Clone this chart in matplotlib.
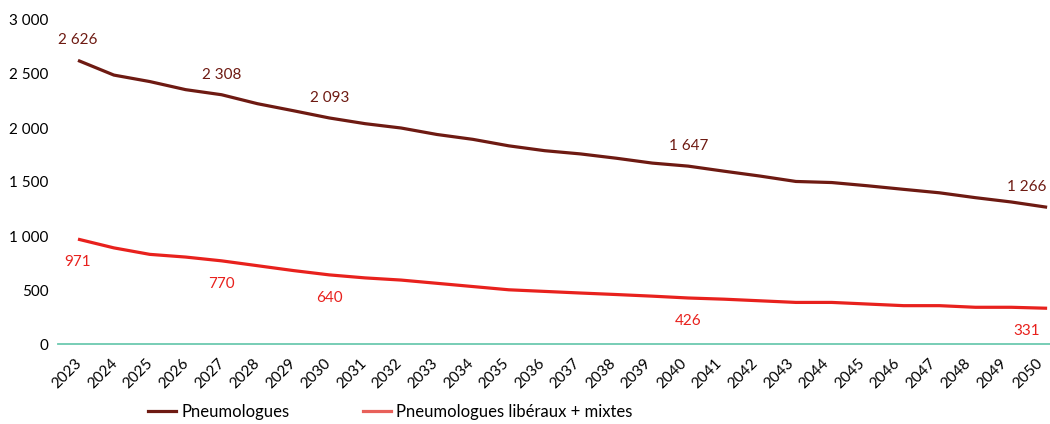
"""
Projection des effectifs de pneumologues 2023-2050
"""
import matplotlib.pyplot as plt
from matplotlib.lines import Line2D
from matplotlib.transforms import ScaledTranslation

# ------------------------
# Data
# ------------------------
years = list(range(2023, 2051))

pneumo_total = [2626, 2490, 2430, 2355, 2308, 2225, 2160, 2093, 2040, 2000,
                1940, 1895, 1835, 1790, 1760, 1720, 1675, 1647, 1600, 1555,
                1505, 1495, 1465, 1432, 1400, 1355, 1315, 1266]

pneumo_liberaux = [971, 890, 830, 805, 770, 725, 680, 640, 612, 592,
                   562, 532, 502, 487, 472, 458, 443, 426, 415, 400,
                   385, 385, 370, 355, 355, 340, 340, 331]

# years that carry a value label
labelled_years = [2023, 2027, 2030, 2040, 2050]

DARK = "#6e1a12"
RED = "#e8211d"
TEAL = "#6cc9b0"

plt.rcParams["font.family"] = ["Lato", "DejaVu Sans"]


def fmt(v):
    return f"{v:,}".replace(",", " ")


fig = plt.figure(figsize=(10.5, 4.24), dpi=100)
ax = fig.add_axes([58 / 1050, 80 / 424, 1 - 58 / 1050, 324 / 424])

x = list(range(len(years)))
ax.plot(x, pneumo_total, color=DARK, lw=2.3, solid_capstyle="butt", clip_on=False)
ax.plot(x, pneumo_liberaux, color=RED, lw=2.3, solid_capstyle="butt", clip_on=False)

for yr in labelled_years:
    i = years.index(yr)
    dx = -20 if yr == years[-1] else 0
    ax.annotate(fmt(pneumo_total[i]), (i, pneumo_total[i]), xytext=(dx, 20),
                textcoords="offset pixels", ha="center", va="center",
                color=DARK, fontsize=11)
    ax.annotate(fmt(pneumo_liberaux[i]), (i, pneumo_liberaux[i]), xytext=(dx, -23),
                textcoords="offset pixels", ha="center", va="center",
                color=RED, fontsize=11)

ax.set_xlim(-0.557, 27.08)
ax.set_ylim(0, 3000)
ax.set_yticks(range(0, 3001, 500))
ax.set_yticklabels([fmt(v) for v in range(0, 3001, 500)], fontsize=11)
ax.set_xticks(x)
ax.set_xticklabels([])

# rotated year labels, drawn by hand so each can be nudged (last one stays inside)
base = ax.get_xaxis_transform()
for k, yr in enumerate(years):
    dx = -3 - 9 * k / (len(years) - 1)
    off = ScaledTranslation(dx / 100, -12 / 100, fig.dpi_scale_trans)
    ax.text(k, 0, str(yr), transform=base + off, fontsize=11, rotation=45,
            ha="right", va="top", rotation_mode="anchor", clip_on=False)

for side in ["top", "right", "left"]:
    ax.spines[side].set_visible(False)
ax.spines["bottom"].set_color(TEAL)
ax.spines["bottom"].set_linewidth(1.3)
ax.tick_params(axis="both", length=0)
ax.tick_params(axis="y", pad=7)

handles = [Line2D([], [], color=DARK, lw=2.3),
           Line2D([], [], color="#e8605a", lw=2.3)]
fig.legend(handles, ["Pneumologues", "Pneumologues libéraux + mixtes"],
           loc="lower left", bbox_to_anchor=(133 / 1050, -0.025), ncol=2,
           frameon=False, fontsize=12, handlelength=1.7, handletextpad=0.3,
           columnspacing=4.4)

fig.savefig("out.png", dpi=100)
